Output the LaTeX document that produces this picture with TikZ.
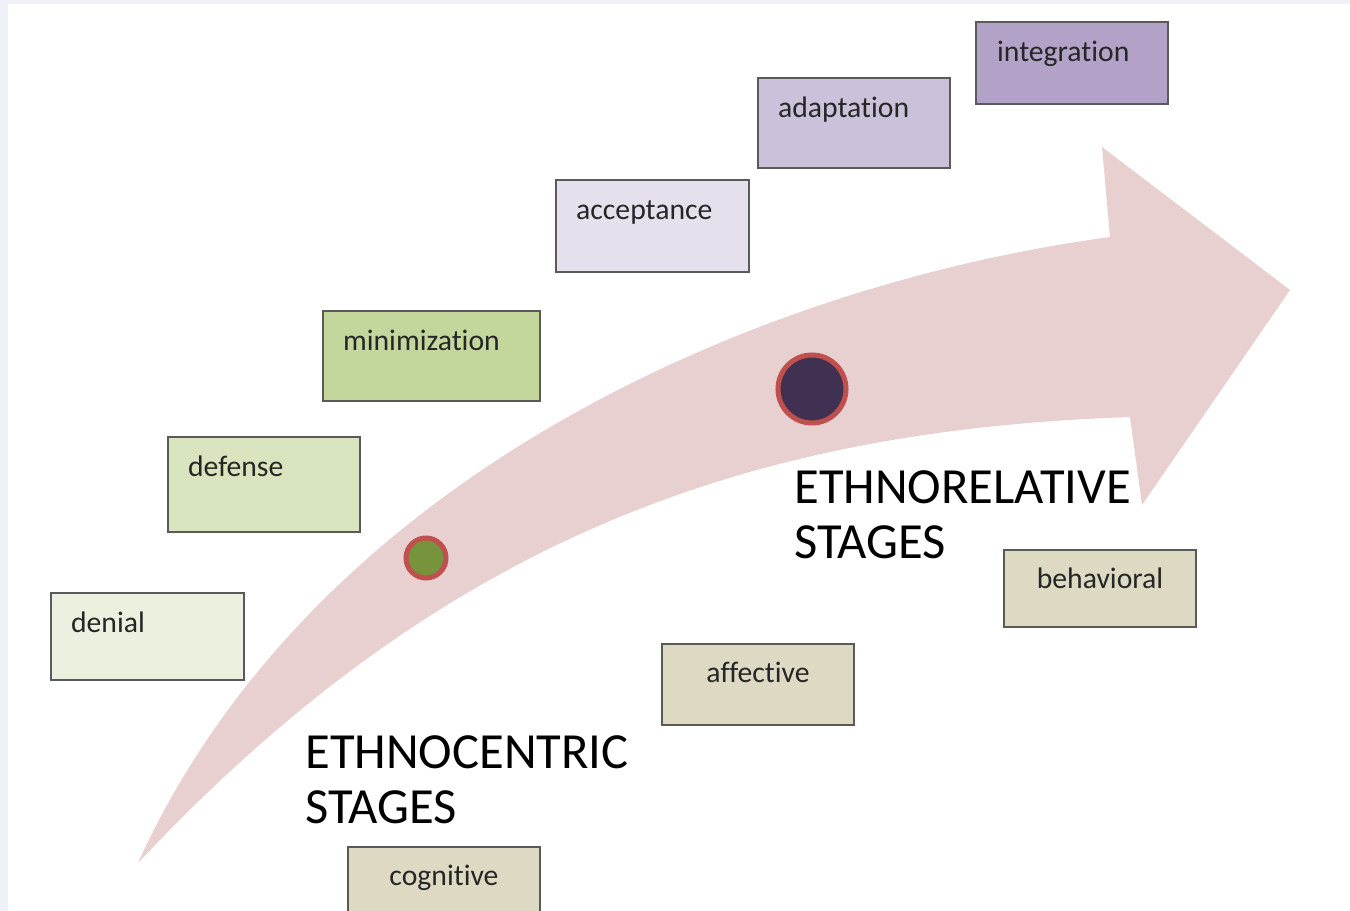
\documentclass[tikz,border=0pt]{standalone}
\usepackage{fontspec}
\setmainfont{Carlito}[Ligatures={NoCommon}]
\definecolor{bgl}{HTML}{EFF0F8}
\definecolor{arrowc}{HTML}{E8D0D1}
\definecolor{boxline}{HTML}{5A5A5A}
\definecolor{cdenial}{HTML}{EBF1DE}
\definecolor{cdefense}{HTML}{D7E4BD}
\definecolor{cmin}{HTML}{C3D69B}
\definecolor{cacc}{HTML}{E5E0EC}
\definecolor{cadap}{HTML}{CCC1DA}
\definecolor{cint}{HTML}{B3A2C7}
\definecolor{ctan}{HTML}{DDD9C3}
\definecolor{cgreen}{HTML}{77933C}
\definecolor{cdark}{HTML}{403152}
\definecolor{cring}{HTML}{C0504D}
\begin{document}
\begin{tikzpicture}[x=0.02cm,y=-0.02cm,
  stagebox/.style={draw=boxline, line width=1.4pt, rectangle, inner sep=0pt},
  boxtext/.style={inner sep=0pt, text=black!85, font=\fontsize{16.9}{20}\selectfont},
  bigtext/.style={inner sep=0pt, align=left, anchor=north west, text=black, font=\fontsize{28.8}{31.3}\selectfont},
  dot/.style={circle, draw=cring, line width=2.85pt, inner sep=0pt}]
\useasboundingbox (0,0) rectangle (1350,911);
\clip (0,0) rectangle (1350,911);
\fill[bgl] (0,0) rectangle (1350,911);
\fill[white] (8,4) rectangle (1350,911);
% big curved arrow
\fill[arrowc] (138,863) .. controls (312,480) and (750,286) .. (1110,237)
  -- (1102,147) -- (1290,290) -- (1142,505) -- (1130,417)
  .. controls (760,430) and (450,530) .. (138,863) -- cycle;
% stage boxes
\node[stagebox, fill=cdenial, minimum width=193*0.02cm, minimum height=87*0.02cm] (denial) at (147.5,636.5) {};
\node[stagebox, fill=cdefense, minimum width=192*0.02cm, minimum height=95*0.02cm] (defense) at (264,484.5) {};
\node[stagebox, fill=cmin, minimum width=217*0.02cm, minimum height=90*0.02cm] (minimization) at (431.5,356) {};
\node[stagebox, fill=cacc, minimum width=193*0.02cm, minimum height=92*0.02cm] (acceptance) at (652.5,226) {};
\node[stagebox, fill=cadap, minimum width=192*0.02cm, minimum height=90*0.02cm] (adaptation) at (854,123) {};
\node[stagebox, fill=cint, minimum width=192*0.02cm, minimum height=82*0.02cm] (integration) at (1072,63) {};
\node[stagebox, fill=ctan, minimum width=192*0.02cm, minimum height=77*0.02cm] (behavioral) at (1100,588.5) {};
\node[stagebox, fill=ctan, minimum width=192*0.02cm, minimum height=81*0.02cm] (affective) at (758,684.5) {};
\node[stagebox, fill=ctan, minimum width=192*0.02cm, minimum height=83*0.02cm] (cognitive) at (444,888.5) {};
% labels
\node[boxtext, anchor=base west] (tdenial) at ([shift={(21,41)}]denial.north west) {denial};
\node[boxtext, anchor=base west] (tdefense) at ([shift={(21,41)}]defense.north west) {defense};
\node[boxtext, anchor=base west] (tmin) at ([shift={(21,41)}]minimization.north west) {minimization};
\node[boxtext, anchor=base west] (tacc) at ([shift={(21,41)}]acceptance.north west) {acceptance};
\node[boxtext, anchor=base west] (tadap) at ([shift={(21,41)}]adaptation.north west) {adaptation};
\node[boxtext, anchor=base west] (tint) at ([shift={(22,41)}]integration.north west) {integration};
\node[boxtext, anchor=base] (tbeh) at ([shift={(0,40)}]behavioral.north) {behavioral};
\node[boxtext, anchor=base] (taff) at ([shift={(0,40)}]affective.north) {affective};
\node[boxtext, anchor=base] (tcog) at ([shift={(0,40)}]cognitive.north) {cognitive};
% dots
\node[dot, fill=cgreen, minimum size=40*0.02cm] (dotA) at (426,558) {};
\node[dot, fill=cdark, minimum size=68*0.02cm] (dotB) at (812,389) {};
% big labels
\node[bigtext] (ethnocentric) at (305,735) {ETHNOCENTRIC\\STAGES};
\node[bigtext] (ethnorelative) at (794,470) {ETHNORELATIVE\\STAGES};
\end{tikzpicture}
\end{document}
